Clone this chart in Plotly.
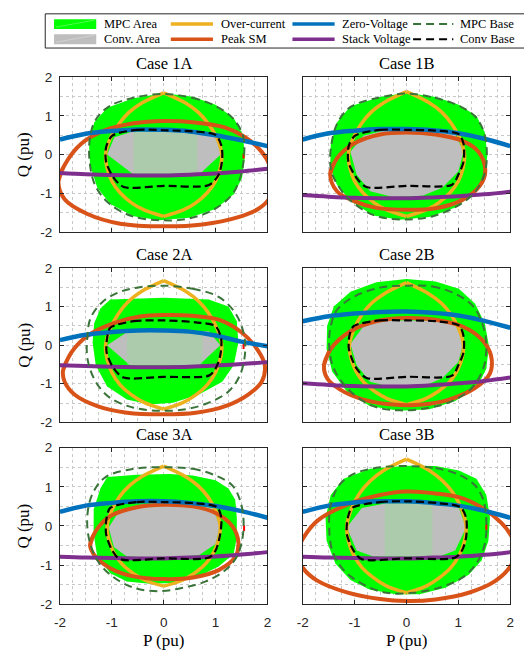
import plotly.graph_objects as go

W, H = 524, 660

CASES = ["1A", "1B", "2A", "2B", "3A", "3B"]
AXIS_TICKS = [-2, -1, 0, 1, 2]
AXIS_TICK_TEXT = ["-2", "-1", "0", "1", "2"]
LINE_P = [-2.0, -1.5, -1.0, -0.5, 0.0, 0.5, 1.0, 1.5, 2.0]
LEGEND_NAMES = ["MPC Area", "Conv. Area", "Over-current", "Peak SM",
                "Zero-Voltage", "Stack Voltage", "MPC Base", "Conv Base"]

# ---------------- Case 1A ----------------
MPC_AREA_1A = [(0, 1.59), (0.56, 1.50), (1.0, 1.29), (1.35, 0.95), (1.52, 0.53), (1.57, -0.02), (1.51, -0.61),
               (1.35, -1.03), (1.0, -1.41), (0.49, -1.64), (-0.08, -1.70), (-0.58, -1.60), (-1.03, -1.28),
               (-1.28, -0.86), (-1.42, -0.27), (-1.44, 0.32), (-1.34, 0.83), (-1.09, 1.21), (-0.58, 1.46)]
MPC_BASE_1A = [(0, 1.57), (0.55, 1.47), (1.0, 1.26), (1.34, 0.93), (1.53, 0.49), (1.55, -0.03), (1.47, -0.62),
               (1.31, -1.05), (0.93, -1.45), (0.43, -1.67), (-0.08, -1.70), (-0.6, -1.6), (-1.05, -1.27),
               (-1.32, -0.8), (-1.43, -0.15), (-1.42, 0.45), (-1.32, 0.88), (-1.05, 1.25), (-0.58, 1.47)]
CONV_AREA_1A = [(-1.09, 0.0), (-0.95, 0.45), (-0.6, 0.6), (0.5, 0.6), (1.0, 0.5), (1.1, 0.0), (0.7, -0.5), (-0.6, -0.5)]
CONV_TEX_1A = [(-0.58, 0.6), (0.65, 0.6), (0.65, -0.5), (-0.58, -0.5)]
CONV_BASE_1A = [(-0.99, 0.49), (-0.52, 0.64), (0, 0.63), (0.56, 0.60), (1.0, 0.51), (1.11, 0.24), (1.13, -0.10),
                (1.06, -0.52), (0.87, -0.79), (0, -0.81), (-0.77, -0.84), (-0.96, -0.61), (-1.11, -0.19), (-1.11, 0.19)]
OC_1A = [(0, 1.6), (0.43, 1.33), (0.68, 1.08), (0.87, 0.78), (1.03, 0.42), (1.12, 0.0), (1.09, -0.35), (1.0, -0.69),
         (0.84, -0.99), (0.62, -1.25), (0.37, -1.44), (0, -1.6), (-0.37, -1.44), (-0.62, -1.25), (-0.84, -0.99),
         (-1.0, -0.69), (-1.09, -0.35), (-1.12, 0.0), (-1.03, 0.42), (-0.87, 0.78), (-0.68, 1.08), (-0.43, 1.33)]
PEAK_1A = [(-2.03, -0.69), (-1.91, -0.27), (-1.59, 0.28), (-1.15, 0.62), (-0.58, 0.81), (0, 0.87), (0.56, 0.84),
           (1.19, 0.70), (1.57, 0.45), (1.89, 0.07), (2.05, -0.3), (2.1, -0.75), (2.03, -1.15), (1.82, -1.41),
           (1.44, -1.62), (0.75, -1.81), (0, -1.86), (-0.84, -1.79), (-1.47, -1.54), (-1.91, -1.16)]
ZERO_1A = [0.39, 0.54, 0.61, 0.65, 0.64, 0.60, 0.50, 0.37, 0.22]
STACK_1A = [-0.48, -0.51, -0.53, -0.54, -0.54, -0.52, -0.49, -0.44, -0.37]
MARK_1A = [(1.54, 0.03), (1.54, -0.1)]

# ---------------- Case 1B ----------------
MPC_AREA_1B = [(0, 1.6), (0.56, 1.49), (1.01, 1.29), (1.35, 1.0), (1.51, 0.57), (1.56, -0.02), (1.51, -0.52),
               (1.32, -0.99), (0.94, -1.37), (0.44, -1.62), (-0.13, -1.69), (-0.64, -1.58), (-1.08, -1.2),
               (-1.34, -0.78), (-1.47, -0.35), (-1.46, 0.24), (-1.34, 0.83), (-1.08, 1.25), (-0.51, 1.49)]
MPC_BASE_1B = [(0, 1.58), (0.55, 1.47), (1.0, 1.27), (1.33, 0.98), (1.5, 0.55), (1.55, -0.02), (1.5, -0.52),
               (1.3, -1.0), (0.92, -1.38), (0.43, -1.62), (-0.13, -1.68), (-0.63, -1.57), (-1.07, -1.2),
               (-1.33, -0.78), (-1.46, -0.35), (-1.45, 0.24), (-1.33, 0.82), (-1.07, 1.24), (-0.51, 1.48)]
CONV_AREA_1B = [(-1.08, 0.07), (-0.83, 0.49), (-0.45, 0.62), (0.56, 0.62), (0.94, 0.53), (1.1, 0.07), (1.0, -0.44),
                (0.69, -0.86), (0.31, -1.07), (-0.26, -1.1), (-0.7, -0.95), (-0.96, -0.52)]
CONV_TEX_1B = []
CONV_BASE_1B = [(-0.99, 0.49), (-0.51, 0.64), (0, 0.64), (0.56, 0.62), (1.01, 0.53), (1.1, 0.28), (1.1, -0.19),
                (1.0, -0.52), (0.88, -0.78), (0, -0.81), (-0.77, -0.84), (-0.96, -0.61), (-1.12, -0.19), (-1.11, 0.24)]
OC_1B = [(0, 1.63), (0.43, 1.35), (0.68, 1.1), (0.87, 0.8), (1.03, 0.42), (1.12, 0.0), (1.09, -0.35), (1.0, -0.69),
         (0.84, -0.99), (0.62, -1.25), (0.37, -1.44), (0, -1.6), (-0.37, -1.44), (-0.62, -1.25), (-0.84, -0.99),
         (-1.0, -0.69), (-1.09, -0.35), (-1.12, 0.0), (-1.03, 0.42), (-0.87, 0.8), (-0.68, 1.1), (-0.43, 1.35)]
PEAK_1B = [(-1.47, -0.5), (-1.34, -0.1), (-1.02, 0.28), (-0.51, 0.52), (0, 0.57), (0.56, 0.52), (1.07, 0.36),
           (1.39, 0.07), (1.52, -0.42), (1.42, -0.8), (1.07, -1.18), (0.56, -1.39), (0, -1.43), (-0.58, -1.38),
           (-1.02, -1.2), (-1.34, -0.95)]
ZERO_1B = [0.39, 0.55, 0.62, 0.66, 0.66, 0.63, 0.55, 0.41, 0.22]
STACK_1B = [-1.05, -1.09, -1.12, -1.13, -1.13, -1.11, -1.08, -1.03, -0.96]
MARK_1B = []

# ---------------- Case 2A ----------------
MPC_AREA_2A = [(0, 1.23), (0.87, 1.18), (1.25, 1.0), (1.41, 0.62), (1.44, 0.07), (1.35, -0.52), (1.13, -0.95),
               (0.68, -1.28), (0.18, -1.49), (-0.27, -1.54), (-0.71, -1.41), (-1.09, -1.07), (-1.31, -0.52),
               (-1.37, 0.07), (-1.34, 0.57), (-1.22, 0.95), (-1.03, 1.18)]
MPC_BASE_2A = [(0, 1.54), (0.56, 1.46), (1.06, 1.25), (1.38, 0.83), (1.54, 0.32), (1.57, -0.19), (1.47, -0.78),
               (1.25, -1.2), (0.87, -1.49), (0.43, -1.66), (-0.08, -1.7), (-0.58, -1.62), (-1.03, -1.37),
               (-1.31, -0.95), (-1.47, -0.35), (-1.47, 0.24), (-1.41, 0.7), (-1.18, 1.12), (-0.84, 1.38), (-0.46, 1.5)]
CONV_AREA_2A = [(-1.09, 0.0), (-0.68, 0.36), (0.87, 0.36), (1.09, 0.0), (0.68, -0.52), (-0.65, -0.52)]
CONV_TEX_2A = [(-0.71, 0.36), (0.75, 0.36), (0.75, -0.52), (-0.71, -0.52)]
CONV_BASE_2A = [(-1.03, 0.45), (-0.58, 0.62), (0, 0.64), (0.62, 0.59), (1.0, 0.49), (1.11, 0.15), (1.09, -0.27),
                (1.0, -0.61), (0.87, -0.79), (0, -0.82), (-0.77, -0.84), (-0.96, -0.61), (-1.1, -0.19), (-1.09, 0.19)]
OC_2A = [(0, 1.67), (0.43, 1.39), (0.68, 1.13), (0.87, 0.82), (1.03, 0.43), (1.12, 0.0), (1.09, -0.37), (1.0, -0.71),
         (0.84, -1.03), (0.62, -1.29), (0.37, -1.49), (0, -1.66), (-0.37, -1.49), (-0.62, -1.29), (-0.84, -1.03),
         (-1.0, -0.71), (-1.09, -0.37), (-1.12, 0.0), (-1.03, 0.43), (-0.87, 0.82), (-0.68, 1.13), (-0.43, 1.39)]
PEAK_2A = [(-1.94, -0.65), (-1.78, -0.19), (-1.47, 0.24), (-0.96, 0.57), (-0.46, 0.74), (0, 0.78), (0.56, 0.76),
           (1.06, 0.66), (1.51, 0.32), (1.82, -0.14), (1.95, -0.52), (1.89, -0.95), (1.63, -1.28), (1.19, -1.58),
           (0.62, -1.75), (0, -1.79), (-0.71, -1.75), (-1.28, -1.58), (-1.72, -1.28), (-1.91, -0.95)]
ZERO_2A = [0.13, 0.27, 0.34, 0.38, 0.38, 0.35, 0.25, 0.09, -0.03]
STACK_2A = [-0.52, -0.54, -0.56, -0.57, -0.57, -0.56, -0.53, -0.49, -0.44]
MARK_2A = [(1.54, 0.03), (1.54, -0.1)]

# ---------------- Case 2B ----------------
MPC_AREA_2B = [(0, 1.71), (0.56, 1.65), (1.01, 1.46), (1.32, 1.08), (1.51, 0.57), (1.59, -0.02), (1.54, -0.61),
               (1.35, -1.11), (0.94, -1.45), (0.44, -1.66), (-0.13, -1.7), (-0.7, -1.58), (-1.15, -1.2),
               (-1.43, -0.69), (-1.54, -0.1), (-1.53, 0.49), (-1.4, 1.0), (-1.08, 1.38), (-0.58, 1.63)]
MPC_BASE_2B = [(0, 1.54), (0.5, 1.52), (0.94, 1.33), (1.29, 1.0), (1.48, 0.49), (1.54, -0.02), (1.48, -0.61),
               (1.26, -1.11), (0.88, -1.45), (0.44, -1.62), (-0.13, -1.69), (-0.64, -1.58), (-1.08, -1.2),
               (-1.4, -0.61), (-1.49, -0.02), (-1.46, 0.49), (-1.34, 0.91), (-1.02, 1.25), (-0.51, 1.49)]
CONV_AREA_2B = [(-1.08, 0.03), (-0.83, 0.49), (-0.45, 0.64), (0.56, 0.64), (0.94, 0.53), (1.1, 0.07), (1.0, -0.44),
                (0.69, -0.86), (0.31, -1.07), (-0.26, -1.1), (-0.7, -0.95), (-0.96, -0.52)]
CONV_TEX_2B = []
CONV_BASE_2B = [(-1.02, 0.49), (-0.51, 0.64), (0, 0.64), (0.56, 0.62), (1.01, 0.51), (1.1, 0.24), (1.1, -0.19),
                (1.0, -0.52), (0.88, -0.79), (0, -0.82), (-0.77, -0.85), (-0.96, -0.61), (-1.11, -0.1), (-1.1, 0.24)]
OC_2B = [(0, 1.62), (0.42, 1.34), (0.67, 1.09), (0.86, 0.79), (1.01, 0.42), (1.1, 0.0), (1.07, -0.34), (0.98, -0.66),
         (0.83, -0.95), (0.61, -1.2), (0.36, -1.39), (0, -1.54), (-0.36, -1.39), (-0.61, -1.2), (-0.83, -0.95),
         (-0.98, -0.66), (-1.07, -0.34), (-1.1, 0.0), (-1.01, 0.42), (-0.86, 0.79), (-0.67, 1.09), (-0.42, 1.34)]
PEAK_2B = [(-1.59, -0.52), (-1.46, -0.1), (-1.08, 0.36), (-0.58, 0.62), (0, 0.7), (0.56, 0.66), (1.07, 0.49),
           (1.45, 0.15), (1.63, -0.27), (1.61, -0.73), (1.32, -1.11), (0.82, -1.41), (0.31, -1.54), (-0.26, -1.54),
           (-0.83, -1.41), (-1.27, -1.16), (-1.53, -0.86)]
ZERO_2B = [0.62, 0.75, 0.82, 0.86, 0.87, 0.84, 0.77, 0.63, 0.45]
STACK_2B = [-0.99, -1.03, -1.06, -1.07, -1.07, -1.04, -0.99, -0.93, -0.84]
MARK_2B = []

# ---------------- Case 3A ----------------
MPC_AREA_3A = [(0.11, 1.33), (0.56, 1.29), (1.0, 1.17), (1.25, 0.96), (1.38, 0.67), (1.41, 0.21), (1.41, -0.29),
               (1.35, -0.71), (1.06, -1.04), (0.68, -1.29), (0.18, -1.46), (-0.27, -1.48), (-0.71, -1.42),
               (-1.03, -1.21), (-1.28, -0.79), (-1.35, -0.21), (-1.35, 0.42), (-1.22, 0.96), (-1.09, 1.25), (-0.52, 1.31)]
MPC_BASE_3A = [(0, 1.5), (0.56, 1.46), (1.0, 1.29), (1.32, 1.04), (1.47, 0.67), (1.54, 0.13), (1.51, -0.38),
               (1.41, -0.79), (1.19, -1.13), (0.81, -1.42), (0.37, -1.58), (-0.08, -1.67), (-0.58, -1.58),
               (-0.99, -1.29), (-1.28, -0.88), (-1.44, -0.33), (-1.47, 0.29), (-1.37, 0.83), (-1.12, 1.25), (-0.58, 1.46)]
CONV_AREA_3A = [(-1.06, -0.04), (-0.84, 0.42), (-0.39, 0.56), (0.56, 0.54), (0.94, 0.46), (1.09, 0.0), (1.0, -0.46),
                (0.68, -0.75), (0, -0.81), (-0.71, -0.78), (-0.96, -0.54)]
CONV_TEX_3A = []
CONV_BASE_3A = [(-1.03, 0.46), (-0.52, 0.61), (0, 0.61), (0.62, 0.58), (1.03, 0.48), (1.11, 0.21), (1.09, -0.21),
                (1.0, -0.63), (0.87, -0.81), (0, -0.83), (-0.84, -0.85), (-0.99, -0.63), (-1.11, -0.21), (-1.1, 0.21)]
OC_3A = [(0, 1.53), (0.41, 1.27), (0.66, 1.03), (0.85, 0.75), (1.0, 0.4), (1.09, 0.0), (1.06, -0.34), (0.97, -0.66),
         (0.82, -0.95), (0.6, -1.2), (0.36, -1.39), (0, -1.54), (-0.36, -1.39), (-0.6, -1.2), (-0.82, -0.95),
         (-0.97, -0.66), (-1.06, -0.34), (-1.09, 0.0), (-1.0, 0.4), (-0.85, 0.75), (-0.66, 1.03), (-0.41, 1.27)]
PEAK_3A = [(-1.42, -0.5), (-1.31, -0.13), (-1.03, 0.25), (-0.52, 0.48), (0, 0.54), (0.56, 0.5), (1.0, 0.33),
           (1.32, 0.0), (1.44, -0.42), (1.38, -0.79), (1.06, -1.13), (0.56, -1.32), (0, -1.36), (-0.58, -1.29),
           (-1.03, -1.08), (-1.31, -0.79)]
ZERO_3A = [0.36, 0.52, 0.59, 0.63, 0.63, 0.59, 0.51, 0.38, 0.21]
STACK_3A = [-0.79, -0.81, -0.82, -0.83, -0.83, -0.81, -0.78, -0.73, -0.67]
MARK_3A = [(1.55, 0.02), (1.55, -0.13)]

# ---------------- Case 3B ----------------
MPC_AREA_3B = [(0, 1.54), (0.56, 1.53), (1.01, 1.42), (1.35, 1.21), (1.54, 0.79), (1.61, 0.21), (1.58, -0.38),
               (1.45, -0.88), (1.2, -1.25), (0.75, -1.58), (0.25, -1.75), (-0.2, -1.75), (-0.7, -1.63),
               (-1.08, -1.38), (-1.37, -0.96), (-1.54, -0.38), (-1.56, 0.21), (-1.46, 0.79), (-1.21, 1.21), (-0.7, 1.46)]
MPC_BASE_3B = [(0, 1.53), (0.56, 1.48), (1.01, 1.31), (1.32, 1.04), (1.48, 0.67), (1.54, 0.13), (1.51, -0.46),
               (1.35, -0.96), (1.07, -1.33), (0.63, -1.58), (0.12, -1.71), (-0.39, -1.71), (-0.83, -1.5),
               (-1.21, -1.13), (-1.43, -0.63), (-1.49, -0.04), (-1.46, 0.54), (-1.3, 1.04), (-1.02, 1.33), (-0.51, 1.5)]
CONV_AREA_3B = [(-1.15, -0.04), (-0.86, 0.46), (-0.39, 0.58), (0.56, 0.58), (1.01, 0.46), (1.15, -0.04),
                (0.94, -0.63), (0.63, -0.78), (-0.64, -0.78), (-0.96, -0.63)]
CONV_TEX_3B = [(-0.42, 0.58), (0.5, 0.58), (0.5, -0.78), (-0.42, -0.78)]
CONV_BASE_3B = [(-1.05, 0.46), (-0.51, 0.61), (0, 0.63), (0.63, 0.58), (1.04, 0.48), (1.15, 0.21), (1.15, -0.29),
                (1.07, -0.63), (0.94, -0.81), (0, -0.83), (-0.86, -0.85), (-1.02, -0.63), (-1.15, -0.21), (-1.13, 0.21)]
OC_3B = [(0, 1.71), (0.44, 1.42), (0.7, 1.15), (0.9, 0.84), (1.06, 0.44), (1.15, 0.0), (1.12, -0.38), (1.02, -0.74),
         (0.86, -1.06), (0.63, -1.33), (0.38, -1.54), (0, -1.71), (-0.38, -1.54), (-0.63, -1.33), (-0.86, -1.06),
         (-1.02, -0.74), (-1.12, -0.38), (-1.15, 0.0), (-1.06, 0.44), (-0.9, 0.84), (-0.7, 1.15), (-0.44, 1.42)]
PEAK_3B = [(-2.12, -0.68), (-2.0, -0.33), (-1.72, 0.13), (-1.15, 0.54), (-0.51, 0.79), (0, 0.88), (0.56, 0.83),
           (1.07, 0.71), (1.51, 0.42), (1.83, 0.08), (2.0, -0.21), (2.12, -0.62), (2.0, -1.04), (1.7, -1.42),
           (1.2, -1.71), (0.56, -1.88), (0, -1.92), (-0.51, -1.87), (-1.15, -1.7), (-1.72, -1.4), (-2.0, -1.07)]
ZERO_3B = [0.36, 0.52, 0.60, 0.63, 0.63, 0.59, 0.52, 0.39, 0.21]
STACK_3B = [-0.79, -0.81, -0.82, -0.83, -0.83, -0.81, -0.79, -0.74, -0.67]
MARK_3B = [(1.54, 0.04), (1.54, -0.1)]

MPC_AREA = dict(zip(CASES, [MPC_AREA_1A, MPC_AREA_1B, MPC_AREA_2A, MPC_AREA_2B, MPC_AREA_3A, MPC_AREA_3B]))
MPC_BASE = dict(zip(CASES, [MPC_BASE_1A, MPC_BASE_1B, MPC_BASE_2A, MPC_BASE_2B, MPC_BASE_3A, MPC_BASE_3B]))
CONV_AREA = dict(zip(CASES, [CONV_AREA_1A, CONV_AREA_1B, CONV_AREA_2A, CONV_AREA_2B, CONV_AREA_3A, CONV_AREA_3B]))
CONV_TEX = dict(zip(CASES, [CONV_TEX_1A, CONV_TEX_1B, CONV_TEX_2A, CONV_TEX_2B, CONV_TEX_3A, CONV_TEX_3B]))
CONV_BASE = dict(zip(CASES, [CONV_BASE_1A, CONV_BASE_1B, CONV_BASE_2A, CONV_BASE_2B, CONV_BASE_3A, CONV_BASE_3B]))
OC = dict(zip(CASES, [OC_1A, OC_1B, OC_2A, OC_2B, OC_3A, OC_3B]))
PEAK = dict(zip(CASES, [PEAK_1A, PEAK_1B, PEAK_2A, PEAK_2B, PEAK_3A, PEAK_3B]))
ZERO = dict(zip(CASES, [ZERO_1A, ZERO_1B, ZERO_2A, ZERO_2B, ZERO_3A, ZERO_3B]))
STACK = dict(zip(CASES, [STACK_1A, STACK_1B, STACK_2A, STACK_2B, STACK_3A, STACK_3B]))
MARK = dict(zip(CASES, [MARK_1A, MARK_1B, MARK_2A, MARK_2B, MARK_3A, MARK_3B]))

# ---------------- styling ----------------
C_MPC_AREA = "#00FF00"
C_CONV_AREA = "#BEBEBE"
C_CONV_TEX = "rgba(140,225,140,0.35)"
C_OC = "#EDB120"
C_PEAK = "#D95319"
C_ZERO = "#0072BD"
C_STACK = "#7E2F8E"
C_MPC_BASE = "#3A743A"
C_CONV_BASE = "#000000"
C_MARK = "#FF0000"
AX_COLOR = "#262626"
GRID_COLOR = "#C8C8C8"
SERIF = "Liberation Serif"
SANS = "Liberation Sans"

COL_PX = [(55, 266.5), (302.5, 514)]
ROW_PX = [(72, 230), (267, 425), (451, 611)]


def px_x(x):
    return x / W


def px_y(y):
    return 1 - y / H


def split_xy(pts):
    return [p[0] for p in pts], [p[1] for p in pts]


def closed(pts):
    xs, ys = split_xy(pts)
    return xs + [xs[0]], ys + [ys[0]]


def smooth_loop(pts):
    xs, ys = split_xy(pts + pts[:2])
    return xs, ys


def lens(pts):
    ib = min(range(len(pts)), key=lambda k: pts[k][1])
    right = pts[:ib + 1]
    left = pts[ib:] + [pts[0]]
    xs = [p[0] for p in right] + [None] + [p[0] for p in left]
    ys = [p[1] for p in right] + [None] + [p[1] for p in left]
    return xs, ys


fig = go.Figure()

for i, case in enumerate(CASES):
    n = "" if i == 0 else str(i + 1)
    xa, ya = "x" + n, "y" + n
    common = dict(xaxis=xa, yaxis=ya, showlegend=False, hoverinfo="skip")

    x, y = closed(MPC_AREA[case])
    fig.add_trace(go.Scatter(x=x, y=y, mode="lines", fill="toself", fillcolor=C_MPC_AREA,
                             line=dict(width=0, color=C_MPC_AREA), name=LEGEND_NAMES[0], **common))
    x, y = closed(CONV_AREA[case])
    fig.add_trace(go.Scatter(x=x, y=y, mode="lines", fill="toself", fillcolor=C_CONV_AREA,
                             line=dict(width=0, color=C_CONV_AREA), name=LEGEND_NAMES[1], **common))
    if CONV_TEX[case]:
        x, y = closed(CONV_TEX[case])
        fig.add_trace(go.Scatter(x=x, y=y, mode="lines", fill="toself", fillcolor=C_CONV_TEX,
                                 line=dict(width=0, color=C_CONV_TEX), name="texture", **common))
    if MARK[case]:
        x, y = split_xy(MARK[case])
        fig.add_trace(go.Scatter(x=x, y=y, mode="lines", line=dict(color=C_MARK, width=2),
                                 name="mark", **common))
    x, y = lens(OC[case])
    fig.add_trace(go.Scatter(x=x, y=y, mode="lines", line=dict(color=C_OC, width=3.5, shape="spline"),
                             name=LEGEND_NAMES[2], **common))
    x, y = smooth_loop(PEAK[case])
    fig.add_trace(go.Scatter(x=x, y=y, mode="lines", line=dict(color=C_PEAK, width=4, shape="spline"),
                             name=LEGEND_NAMES[3], **common))
    fig.add_trace(go.Scatter(x=LINE_P, y=ZERO[case], mode="lines",
                             line=dict(color=C_ZERO, width=4.5, shape="spline"), name=LEGEND_NAMES[4], **common))
    fig.add_trace(go.Scatter(x=LINE_P, y=STACK[case], mode="lines",
                             line=dict(color=C_STACK, width=4, shape="spline"), name=LEGEND_NAMES[5], **common))
    x, y = closed(MPC_BASE[case])
    fig.add_trace(go.Scatter(x=x, y=y, mode="lines",
                             line=dict(color=C_MPC_BASE, width=2, dash="8px,5px", shape="spline"),
                             name=LEGEND_NAMES[6], **common))
    x, y = closed(CONV_BASE[case])
    fig.add_trace(go.Scatter(x=x, y=y, mode="lines",
                             line=dict(color=C_CONV_BASE, width=2.2, dash="8px,4px", shape="spline", smoothing=0.8),
                             name=LEGEND_NAMES[7], **common))

layout = dict(width=W, height=H, margin=dict(l=0, r=0, t=0, b=0, pad=0), paper_bgcolor="white",
              plot_bgcolor="white", showlegend=False)

annotations = []
shapes = []

for i, case in enumerate(CASES):
    r, c = divmod(i, 2)
    n = "" if i == 0 else str(i + 1)
    x0, x1 = COL_PX[c]
    y0, y1 = ROW_PX[r]
    axbase = dict(range=[-2, 2], showline=True, linecolor=AX_COLOR, linewidth=1, mirror="ticks",
                  ticks="inside", ticklen=4, tickwidth=1, tickcolor=AX_COLOR,
                  tickmode="array", tickvals=AXIS_TICKS, ticktext=AXIS_TICK_TEXT,
                  showgrid=True, gridcolor=GRID_COLOR, griddash="dot", gridwidth=1, zeroline=False,
                  tickfont=dict(family=SANS, size=13.5, color=AX_COLOR), fixedrange=True)
    layout["xaxis" + n] = dict(axbase, domain=[px_x(x0), px_x(x1)], anchor="y" + n,
                               showticklabels=(r == 2), ticklabelstandoff=6,
                               minor=dict(dtick=0.25, tick0=0, showgrid=True, gridcolor=GRID_COLOR,
                                          griddash="dot", gridwidth=1))
    layout["yaxis" + n] = dict(axbase, domain=[px_y(y1), px_y(y0)], anchor="x" + n,
                               showticklabels=(c == 0), ticklabelstandoff=4,
                               minor=dict(dtick=0.5, tick0=0, showgrid=True, gridcolor=GRID_COLOR,
                                          griddash="dot", gridwidth=1))
    annotations.append(dict(text="Case " + case, x=px_x((x0 + x1) / 2), y=px_y(y0 - 14), xref="paper",
                            yref="paper", showarrow=False, xanchor="center", yanchor="middle",
                            font=dict(family=SERIF, size=16.5, color="black")))
    if c == 0:
        annotations.append(dict(text="Q (pu)", x=px_x(18), y=px_y((y0 + y1) / 2), xref="paper", yref="paper",
                                showarrow=False, textangle=-90, xanchor="center", yanchor="middle",
                                font=dict(family=SERIF, size=17, color="black")))
    if r == 2:
        annotations.append(dict(text="P (pu)", x=px_x((x0 + x1) / 2), y=px_y(648), xref="paper", yref="paper",
                                showarrow=False, xanchor="center", yanchor="middle",
                                font=dict(family=SERIF, size=17, color="black")))

# ---------------- legend (drawn) ----------------
shapes.append(dict(type="rect", xref="paper", yref="paper", x0=px_x(40), x1=px_x(540), y0=px_y(42), y1=px_y(7),
                   line=dict(color=AX_COLOR, width=1), fillcolor="white", layer="above"))
ROWS_Y = [17.5, 33]
LEG_SAMPLES = [
    ("fill", C_MPC_AREA, None), ("fill", C_CONV_AREA, None),
    ("line", C_OC, None), ("line", C_PEAK, None),
    ("line", C_ZERO, None), ("line", C_STACK, None),
    ("line", C_MPC_BASE, "dash"), ("line", C_CONV_BASE, "dash"),
]
COL_SAMPLE_X = [(49, 92), (168, 211), (292, 335), (415, 456)]
COL_TEXT_X = [98, 217, 341, 461]
for k, (kind, color, dash) in enumerate(LEG_SAMPLES):
    col, row = divmod(k, 2)
    sx0, sx1 = COL_SAMPLE_X[col]
    yc = ROWS_Y[row]
    if kind == "fill":
        shapes.append(dict(type="rect", xref="paper", yref="paper", x0=px_x(sx0), x1=px_x(sx1),
                           y0=px_y(yc + 5), y1=px_y(yc - 5), line=dict(width=0), fillcolor=color, layer="above"))
        shapes.append(dict(type="line", xref="paper", yref="paper", x0=px_x(sx0 + 2), x1=px_x(sx1 - 2),
                           y0=px_y(yc + 3), y1=px_y(yc - 4), line=dict(color="rgba(255,255,255,0.5)", width=0.6),
                           layer="above"))
    else:
        shapes.append(dict(type="line", xref="paper", yref="paper", x0=px_x(sx0), x1=px_x(sx1),
                           y0=px_y(yc), y1=px_y(yc),
                           line=dict(color=color, width=2 if dash else 3.5, dash="8px,5px" if dash else "solid"),
                           layer="above"))
    annotations.append(dict(text=LEGEND_NAMES[k], x=px_x(COL_TEXT_X[col]), y=px_y(yc), xref="paper", yref="paper",
                            showarrow=False, xanchor="left", yanchor="middle",
                            font=dict(family=SERIF, size=12.5, color="black")))

layout["annotations"] = annotations
layout["shapes"] = shapes
fig.update_layout(**layout)
fig.write_html("out.html", config={"displayModeBar": False},
               post_script="document.body.style.margin='0';document.body.style.overflow='hidden';")
